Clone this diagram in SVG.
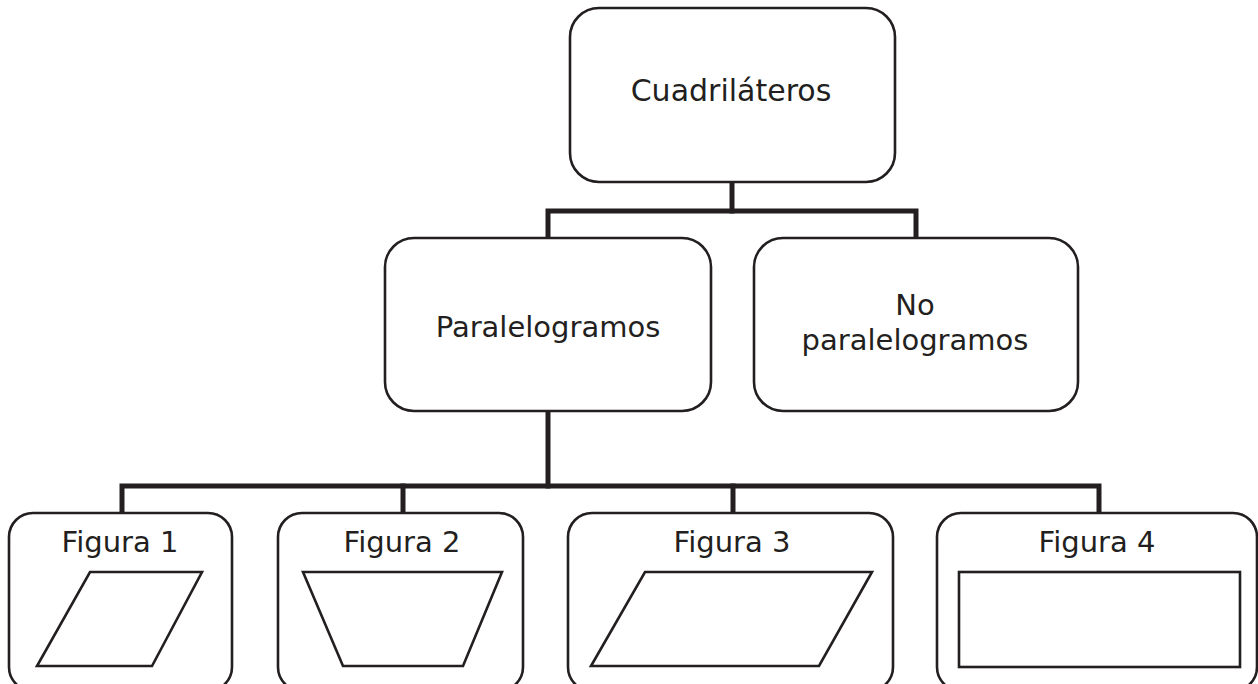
<svg xmlns="http://www.w3.org/2000/svg" width="1258" height="684" viewBox="0 0 1258 684">
<style>
.box{fill:#fff;stroke:#231f20;stroke-width:2.6}
.shape{fill:#fff;stroke:#231f20;stroke-width:2.6}
.lbl{font-family:"DejaVu Sans","Verdana",sans-serif;font-size:29px;fill:#231f20;text-anchor:middle}
.conn{fill:none;stroke:#231f20;stroke-width:5;stroke-linejoin:miter;stroke-linecap:square}
</style>
<rect width="1258" height="684" fill="#fff"/>
<g id="connectors">
<path class="conn" d="M732,182 V211"/>
<path class="conn" d="M548,238 V211 H916 V238"/>
<path class="conn" d="M548,412 V486"/>
<path class="conn" d="M122,513 V486 H1099 V513"/>
<path class="conn" d="M403,486 V513"/>
<path class="conn" d="M733,486 V513"/>
</g>
<g id="cuadrilateros">
<rect class="box" x="570" y="8" width="325" height="174" rx="29"/>
<text class="lbl" x="731" y="101" style="font-size:30px">Cuadriláteros</text>
</g>
<g id="paralelogramos">
<rect class="box" x="385" y="238" width="326" height="173" rx="29"/>
<text class="lbl" x="548" y="337">Paralelogramos</text>
</g>
<g id="no-paralelogramos">
<rect class="box" x="754" y="238" width="324" height="173" rx="29"/>
<text class="lbl" x="915" y="315">No</text>
<text class="lbl" x="915" y="350">paralelogramos</text>
</g>
<g id="figura1">
<rect class="box" x="9" y="513" width="223" height="178" rx="24"/>
<text class="lbl" x="120" y="552">Figura 1</text>
<polygon class="shape" points="90,572 202,572 152,666 37,666"/>
</g>
<g id="figura2">
<rect class="box" x="278" y="513" width="245" height="178" rx="24"/>
<text class="lbl" x="402" y="552">Figura 2</text>
<polygon class="shape" points="303,572 502,572 463,666 343,666"/>
</g>
<g id="figura3">
<rect class="box" x="568" y="513" width="325" height="178" rx="24"/>
<text class="lbl" x="732" y="552">Figura 3</text>
<polygon class="shape" points="645,572 872,572 819,666 591,666"/>
</g>
<g id="figura4">
<rect class="box" x="937" y="513" width="320" height="178" rx="24"/>
<text class="lbl" x="1097" y="552">Figura 4</text>
<rect class="shape" x="959" y="572" width="281" height="95"/>
</g>
</svg>
